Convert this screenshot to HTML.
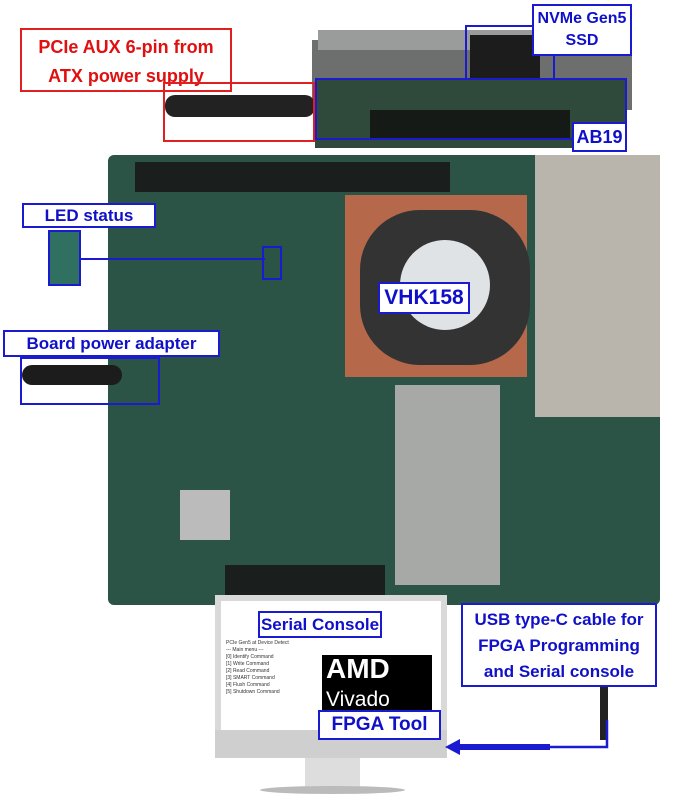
<!DOCTYPE html>
<html><head><style>
body{margin:0;width:683px;height:800px;background:#fff;position:relative;overflow:hidden;font-family:"Liberation Sans",sans-serif}
div{position:absolute;box-sizing:border-box;white-space:nowrap}
.lb{background:#fff;border:2px solid #1a1ad0;color:#1010c8;font-weight:bold;text-align:center;line-height:1.15;overflow:hidden}
.bx{border:2px solid #1a1ad0}
</style></head><body>
<!-- top card area -->
<div style="left:312px;top:40px;width:320px;height:70px;background:#6d6f6e"></div>
<div style="left:318px;top:30px;width:230px;height:20px;background:#9a9c9b"></div>
<div style="left:470px;top:35px;width:70px;height:45px;background:#1c1c1c"></div>
<div style="left:315px;top:78px;width:310px;height:70px;background:#2f4a3a"></div>
<div style="left:370px;top:110px;width:200px;height:30px;background:#151a17"></div>
<div style="left:165px;top:95px;width:150px;height:22px;background:#222;border-radius:10px"></div>
<!-- main board -->
<div style="left:108px;top:155px;width:552px;height:450px;background:#2b5447;border-radius:6px"></div>
<div style="left:135px;top:162px;width:315px;height:30px;background:#1a1e1c"></div>
<div style="left:535px;top:155px;width:125px;height:262px;background:#b9b4ac"></div>
<div style="left:345px;top:195px;width:182px;height:182px;background:#b5694a"></div>
<div style="left:360px;top:210px;width:170px;height:155px;background:#333;border-radius:60px"></div>
<div style="left:400px;top:240px;width:90px;height:90px;background:#dfe3e6;border-radius:50%"></div>
<div style="left:395px;top:385px;width:105px;height:200px;background:#a6a9a6"></div>
<div style="left:180px;top:490px;width:50px;height:50px;background:#bbb"></div>
<div style="left:225px;top:565px;width:160px;height:30px;background:#1a1e1c"></div>
<div style="left:22px;top:365px;width:100px;height:20px;background:#1c1c1c;border-radius:10px"></div>
<div style="left:600px;top:685px;width:8px;height:55px;background:#222"></div>
<!-- monitor -->
<div style="left:215px;top:595px;width:232px;height:140px;background:#fff;border:6px solid #d9d9d9;border-bottom:none"></div>
<div style="left:215px;top:730px;width:232px;height:28px;background:#cfcfcf"></div>
<div style="left:305px;top:758px;width:55px;height:32px;background:#ddd"></div>
<div style="left:260px;top:786px;width:145px;height:8px;background:#bbb;border-radius:50%"></div>
<div style="left:322px;top:655px;width:110px;height:58px;background:#000;color:#fff;font-weight:bold;font-size:28px;padding-left:4px;line-height:28px">AMD<br><span style="font-weight:normal;font-size:21px">Vivado</span></div>
<div style="left:226px;top:640px;width:90px;height:60px;font-size:5px;color:#333;line-height:7px">PCIe Gen5 at Device Detect<br>--- Main menu ---<br>[0] Identify Command<br>[1] Write Command<br>[2] Read Command<br>[3] SMART Command<br>[4] Flush Command<br>[5] Shutdown Command</div>
<!-- callouts -->
<div style="left:20px;top:28px;width:212px;height:64px;background:#fff;border:2px solid #e02020;color:#e01010;font-weight:bold;font-size:18px;text-align:center;line-height:29px;padding-top:3px;overflow:hidden">PCIe AUX 6-pin from<br>ATX power supply</div>
<div style="left:163px;top:82px;width:152px;height:60px;border:2px solid #e02020"></div>
<div class="bx" style="left:315px;top:78px;width:312px;height:62px"></div>
<div class="bx" style="left:465px;top:25px;width:90px;height:55px"></div>
<div class="lb" style="left:532px;top:4px;width:100px;height:52px;font-size:16px;line-height:22px;padding-top:2px">NVMe Gen5<br>SSD</div>
<div class="lb" style="left:572px;top:122px;width:55px;height:30px;font-size:18px;line-height:26px">AB19</div>
<div class="lb" style="left:22px;top:203px;width:134px;height:25px;font-size:17px;line-height:21px">LED status</div>
<div class="bx" style="left:48px;top:230px;width:33px;height:56px;background:#2f7060"></div>
<div style="left:80px;top:258px;width:185px;height:2px;background:#1a1ad0"></div>
<div class="bx" style="left:262px;top:246px;width:20px;height:34px"></div>
<div class="lb" style="left:378px;top:282px;width:92px;height:32px;font-size:21px;line-height:28px">VHK158</div>
<div class="lb" style="left:3px;top:330px;width:217px;height:27px;font-size:17px;line-height:23px">Board power adapter</div>
<div class="bx" style="left:20px;top:357px;width:140px;height:48px"></div>
<div class="lb" style="left:258px;top:611px;width:124px;height:27px;font-size:17px;line-height:23px">Serial Console</div>
<div class="lb" style="left:461px;top:603px;width:196px;height:84px;font-size:17px;line-height:26px;padding-top:2px">USB type-C cable for<br>FPGA Programming<br>and Serial console</div>
<div class="lb" style="left:318px;top:710px;width:123px;height:30px;font-size:19px;line-height:26px">FPGA Tool</div>
<svg width="683" height="800" style="position:absolute;left:0;top:0">
<polyline points="607,720 607,747 450,747" fill="none" stroke="#1a1ad0" stroke-width="2.5"/>
<rect x="455" y="744" width="95" height="6" fill="#1a1ad0"/>
<polygon points="445,747 460,739 460,755" fill="#1a1ad0"/>
</svg>
</body></html>
